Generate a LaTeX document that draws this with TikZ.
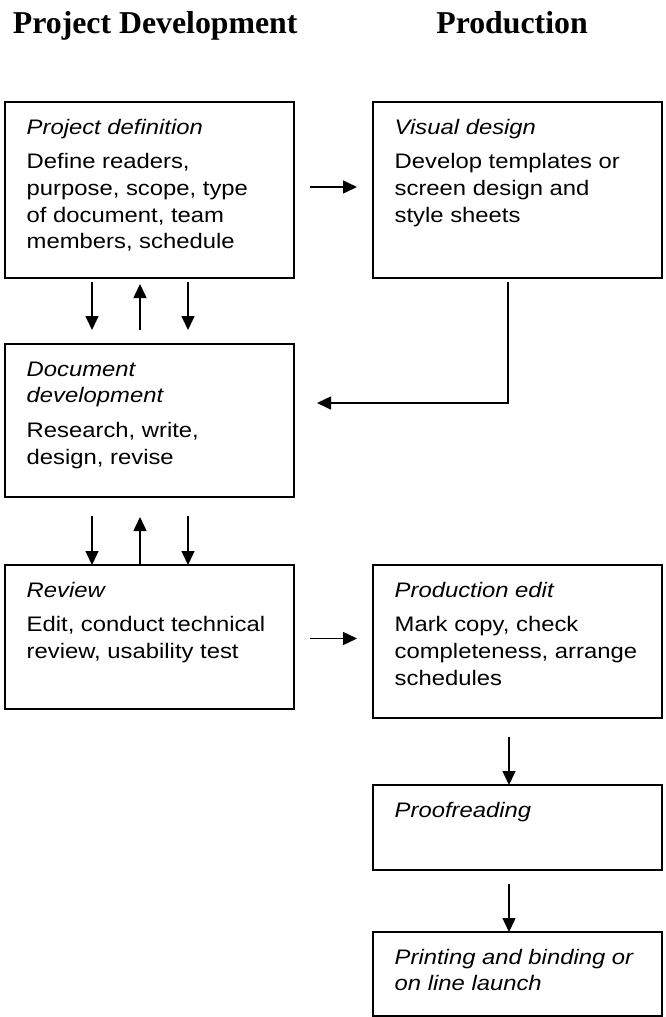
\documentclass[tikz,border=0pt]{standalone}
\usepackage{fontspec}
\usetikzlibrary{arrows.meta}
\newfontfamily\bodyfont[FakeStretch=1.135]{Liberation Sans}
\newfontfamily\headfont{Liberation Serif}
\tikzset{
  box/.style={draw, line width=1.8pt, anchor=north west, inner sep=0pt, outer sep=0pt},
  txt/.style={anchor=base west, inner sep=0pt, font=\bodyfont\fontsize{21}{26.8}\selectfont},
  head/.style={anchor=base, inner sep=0pt, font=\headfont\bfseries\fontsize{31.8}{36}\selectfont},
  arr/.style={line width=1.5pt, -{Triangle[length=14pt,width=13pt]}}
}
\begin{document}
\begin{tikzpicture}[x=1pt,y=-1pt]
\useasboundingbox (0,0) rectangle (665,1017);
% headers
\node[head] (h1) at (155.2,33.3) {Project Development};
\node[head] (h2) at (512,33.3) {Production};
% boxes
\node[box, minimum width=289pt, minimum height=176pt] (b1) at (5,102) {};
\node[box, minimum width=289pt, minimum height=176pt] (b2) at (373,102) {};
\node[box, minimum width=289pt, minimum height=153pt] (b3) at (5,344) {};
\node[box, minimum width=289pt, minimum height=144pt] (b4) at (5,565) {};
\node[box, minimum width=289pt, minimum height=153pt] (b5) at (373,565) {};
\node[box, minimum width=289pt, minimum height=85pt] (b6) at (373,785) {};
\node[box, minimum width=289pt, minimum height=84pt] (b7) at (373,932) {};
% texts
\node[txt] (t1) at (26.5,134) {\begin{tabular}[t]{@{}l@{}}\textit{Project definition}\\[7.7pt]Define readers,\\purpose, scope, type\\of document, team\\members, schedule\end{tabular}};
\node[txt] (t2) at (394.5,134) {\begin{tabular}[t]{@{}l@{}}\textit{Visual design}\\[7.7pt]Develop templates or\\screen design and\\style sheets\end{tabular}};
\node[txt] (t3) at (26.5,376) {\begin{tabular}[t]{@{}l@{}}\textit{Document}\\\textit{development}\\[7.7pt]Research, write,\\design, revise\end{tabular}};
\node[txt] (t4) at (26.5,597) {\begin{tabular}[t]{@{}l@{}}\textit{Review}\\[7.7pt]Edit, conduct technical\\review, usability test\end{tabular}};
\node[txt] (t5) at (394.5,597) {\begin{tabular}[t]{@{}l@{}}\textit{Production edit}\\[7.7pt]Mark copy, check\\completeness, arrange\\schedules\end{tabular}};
\node[txt] (t6) at (394.5,817) {\begin{tabular}[t]{@{}l@{}}\textit{Proofreading}\end{tabular}};
\node[txt] (t7) at (394.5,964) {\begin{tabular}[t]{@{}l@{}}\textit{Printing and binding or}\\\textit{on line launch}\end{tabular}};
% connectors
\draw[arr] ([xshift=16pt,yshift=3pt]b1.east) -- ([xshift=-16pt,yshift=3pt]b2.west);
\draw[arr] ([xshift=-57.5pt,yshift=-4pt]b1.south) -- ([xshift=-57.5pt,yshift=14pt]b3.north);
\draw[arr] ([xshift=-9.5pt,yshift=14pt]b3.north) -- ([xshift=-9.5pt,yshift=-6pt]b1.south);
\draw[arr] ([xshift=38.5pt,yshift=-4pt]b1.south) -- ([xshift=38.5pt,yshift=14pt]b3.north);
\draw[arr] ([xshift=-9.5pt,yshift=-4pt]b2.south) |- ([xshift=23pt,yshift=17.5pt]b3.east);
\draw[arr] ([xshift=-57.5pt,yshift=-19pt]b3.south) -- ([xshift=-57.5pt]b4.north);
\draw[arr] ([xshift=-9.5pt]b4.north) -- ([xshift=-9.5pt,yshift=-20pt]b3.south);
\draw[arr] ([xshift=38.5pt,yshift=-19pt]b3.south) -- ([xshift=38.5pt]b4.north);
\draw[arr] ([xshift=16pt,yshift=-1.5pt]b4.east) -- ([xshift=-16pt,yshift=3pt]b5.west);
\draw[arr] ([xshift=-8.5pt,yshift=-19pt]b5.south) -- ([xshift=-8.5pt]b6.north);
\draw[arr] ([xshift=-8.5pt,yshift=-14pt]b6.south) -- ([xshift=-8.5pt]b7.north);
\end{tikzpicture}
\end{document}
